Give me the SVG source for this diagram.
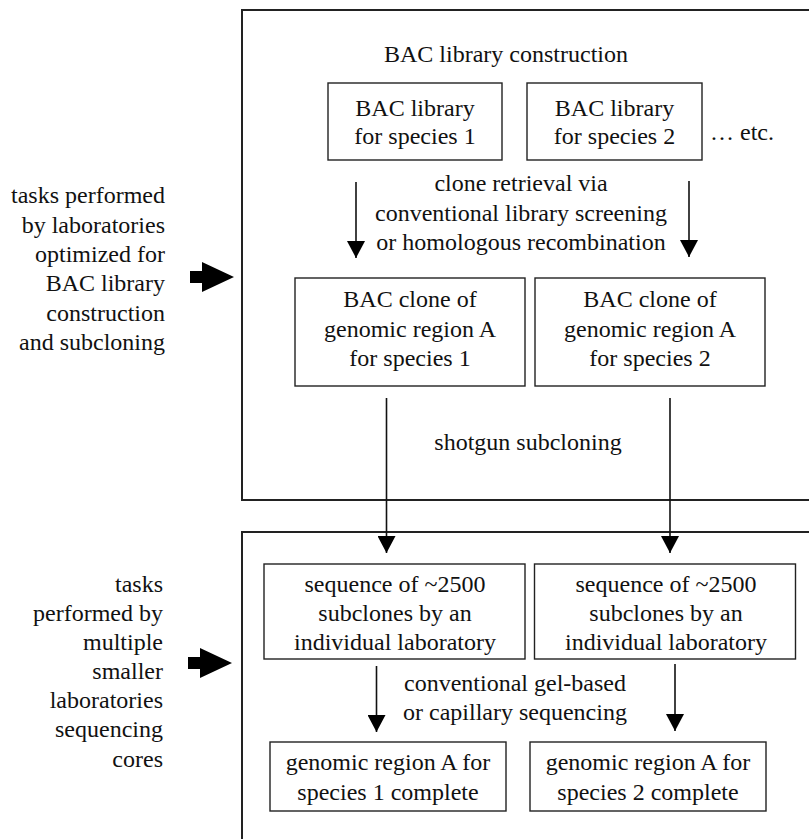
<svg xmlns="http://www.w3.org/2000/svg" width="809" height="839" viewBox="0 0 809 839">
<defs>
<style>
text{font-family:"Liberation Serif","Times New Roman",serif;font-size:24px;fill:#111;}
.c{text-anchor:middle;}
.r{text-anchor:end;}
.outer{fill:none;stroke:#222;stroke-width:2;}
.box{fill:#fff;stroke:#222;stroke-width:1.4;}
.conn{stroke:#111;stroke-width:1.6;fill:none;}
.block{fill:#000;}
</style>
<marker id="ah" markerUnits="userSpaceOnUse" viewBox="0 0 17 18" refX="17" refY="9" markerWidth="17" markerHeight="18" orient="auto">
<path d="M0,0 L17,9 L0,18 Z" fill="#000"/>
</marker>
</defs>
<rect width="809" height="839" fill="#fff"/>

<g id="panel-construction">
<rect class="outer" x="242" y="10" width="620" height="490"/>
<text class="c" x="506" y="62">BAC library construction</text>
</g>
<g id="panel-sequencing">
<rect class="outer" x="242" y="532" width="620" height="360"/>
</g>

<g id="label-top">
<text class="r" x="165" y="203">tasks performed</text>
<text class="r" x="165" y="232.5">by laboratories</text>
<text class="r" x="165" y="262">optimized for</text>
<text class="r" x="165" y="291">BAC library</text>
<text class="r" x="165" y="320.5">construction</text>
<text class="r" x="165" y="350">and subcloning</text>
<polygon class="block" points="190,271 202,271 202,262 234,277 202,292 202,283 190,283"/>
</g>

<g id="label-bottom">
<text class="r" x="163" y="592">tasks</text>
<text class="r" x="163" y="621">performed by</text>
<text class="r" x="163" y="650">multiple</text>
<text class="r" x="163" y="679">smaller</text>
<text class="r" x="163" y="708">laboratories</text>
<text class="r" x="163" y="737">sequencing</text>
<text class="r" x="163" y="767">cores</text>
<polygon class="block" points="188,657 200,657 200,648 232,663 200,678 200,669 188,669"/>
</g>

<g id="lib1">
<rect class="box" x="328" y="83" width="174" height="77"/>
<text class="c" x="415" y="116">BAC library</text>
<text class="c" x="415" y="144">for species 1</text>
</g>
<g id="lib2">
<rect class="box" x="527" y="83" width="175" height="77"/>
<text class="c" x="614.5" y="116">BAC library</text>
<text class="c" x="614.5" y="144">for species 2</text>
</g>
<g id="etc">
<text x="710" y="140">… etc.</text>
</g>

<g id="clone1">
<rect class="box" x="295" y="278" width="230" height="108"/>
<text class="c" x="410" y="307">BAC clone of</text>
<text class="c" x="410" y="337">genomic region A</text>
<text class="c" x="410" y="366">for species 1</text>
</g>
<g id="clone2">
<rect class="box" x="535" y="278" width="230" height="108"/>
<text class="c" x="650" y="307">BAC clone of</text>
<text class="c" x="650" y="337">genomic region A</text>
<text class="c" x="650" y="366">for species 2</text>
</g>

<g id="seq1">
<rect class="box" x="264" y="564" width="261" height="95"/>
<text class="c" x="395" y="592">sequence of ~2500</text>
<text class="c" x="395" y="621">subclones by an</text>
<text class="c" x="395" y="650">individual laboratory</text>
</g>
<g id="seq2">
<rect class="box" x="534.5" y="564" width="261" height="95"/>
<text class="c" x="666" y="592">sequence of ~2500</text>
<text class="c" x="666" y="621">subclones by an</text>
<text class="c" x="666" y="650">individual laboratory</text>
</g>

<g id="done1">
<rect class="box" x="270" y="742" width="236" height="69"/>
<text class="c" x="388" y="770">genomic region A for</text>
<text class="c" x="388" y="800">species 1 complete</text>
</g>
<g id="done2">
<rect class="box" x="530" y="742" width="236" height="69"/>
<text class="c" x="648" y="770">genomic region A for</text>
<text class="c" x="648" y="800">species 2 complete</text>
</g>

<g id="connectors">
<line class="conn" x1="356" y1="182" x2="356" y2="258" marker-end="url(#ah)"/>
<line class="conn" x1="689" y1="181" x2="689" y2="257" marker-end="url(#ah)"/>
<text class="c" x="521" y="191">clone retrieval via</text>
<text class="c" x="521" y="221">conventional library screening</text>
<text class="c" x="521" y="250">or homologous recombination</text>
<line class="conn" x1="386.5" y1="398" x2="386.5" y2="553" marker-end="url(#ah)"/>
<line class="conn" x1="670" y1="398" x2="670" y2="553" marker-end="url(#ah)"/>
<text class="c" x="528" y="450">shotgun subcloning</text>
<line class="conn" x1="376.5" y1="666" x2="376.5" y2="732" marker-end="url(#ah)"/>
<line class="conn" x1="675" y1="664" x2="675" y2="731" marker-end="url(#ah)"/>
<text class="c" x="515" y="691">conventional gel-based</text>
<text class="c" x="515" y="720">or capillary sequencing</text>
</g>
</svg>
